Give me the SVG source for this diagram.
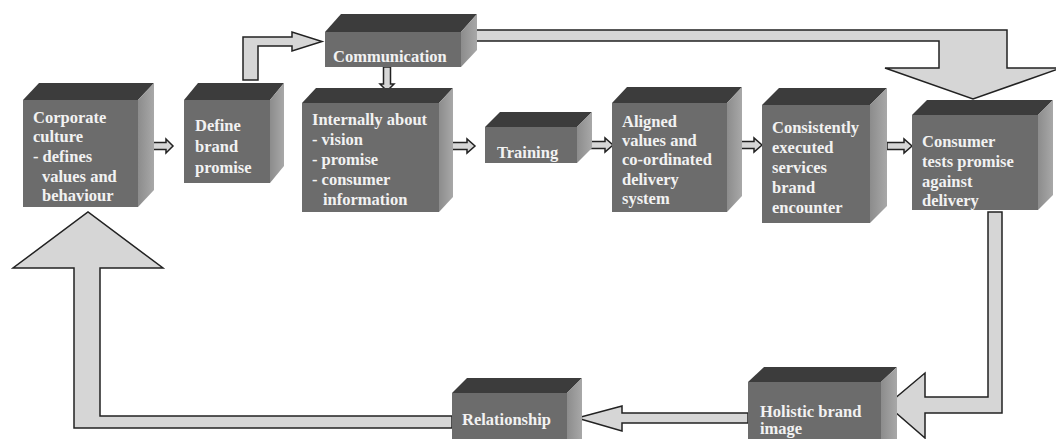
<svg xmlns="http://www.w3.org/2000/svg" width="1056" height="439" viewBox="0 0 1056 439">
  <defs>
    <linearGradient id="sideGrad" x1="0" y1="0" x2="1" y2="0">
      <stop offset="0" stop-color="#8c8c8c"/>
      <stop offset="1" stop-color="#a8a8a8"/>
    </linearGradient>
    <style>
      .front { fill: #6c6c6c; }
      .top { fill: #3c3c3c; }
      .side { fill: url(#sideGrad); }
      .lbl { font-family: "Liberation Serif", "Times New Roman", serif; font-weight: bold; font-size: 16.5px; fill: #f2f2f2; }
      .arrow { fill: #d6d6d6; stroke: #222222; stroke-width: 1.5; stroke-linejoin: miter; }
    </style>
  </defs>
  <rect width="1056" height="439" fill="#ffffff"/>

  <!-- connectors -->
  <g id="connectors">
    <!-- Define brand promise -> Communication (L-shaped) -->
    <path class="arrow" d="M243,80 L243,37 L292,37 L292,32 L322,41.5 L292,51 L292,46 L258,46 L258,80 Z"/>
    <!-- Communication -> Consumer tests (long top arrow) -->
    <path class="arrow" d="M472,30 L1007,30 L1007,68 L1061,68 L973,99 L885,68 L939,68 L939,41 L472,41 Z"/>
    <!-- Consumer tests -> Holistic brand image -->
    <path class="arrow" d="M988,212 L1002,212 L1002,413 L925,413 L925,438 L887,405 L925,373 L925,397 L988,397 Z"/>
    <!-- Holistic brand image -> Relationship -->
    <path class="arrow" d="M748,413 L748,423 L622,423 L622,431 L577,418 L622,406 L622,413 Z"/>
    <!-- Relationship -> Corporate culture (feedback loop) -->
    <path class="arrow" d="M452,416 L452,428 L74,428 L74,268 L13,268 L88,212 L163,268 L100,268 L100,416 Z"/>
    <!-- small arrows between steps -->
    <path class="arrow" d="M153,142.5 L166,142.5 L166,139 L173,146 L166,153 L166,149.5 L153,149.5 Z"/>
    <path class="arrow" d="M383.5,67 L383.5,84 L380,84 L387,91 L394,84 L390.5,84 L390.5,67 Z"/>
    <path class="arrow" d="M450,142.5 L467,142.5 L467,139 L475,146 L467,153 L467,149.5 L450,149.5 Z"/>
    <path class="arrow" d="M588,141.5 L605,141.5 L605,138 L613,145 L605,152 L605,148.5 L588,148.5 Z"/>
    <path class="arrow" d="M737,141.5 L754,141.5 L754,138 L762,145 L754,152 L754,148.5 L737,148.5 Z"/>
    <path class="arrow" d="M887,142.5 L904,142.5 L904,139 L912,146 L904,153 L904,149.5 L887,149.5 Z"/>
  </g>

  <!-- Corporate culture -->
  <g id="corporate-culture">
    <polygon class="top" points="23,100 39,83 154,83 138,100"/>
    <polygon class="side" points="138,100 154,83 154,190 138,207"/>
    <rect class="front" x="23" y="100" width="115" height="107"/>
    <text class="lbl" x="33" y="123">Corporate</text>
    <text class="lbl" x="33" y="142">culture</text>
    <text class="lbl" x="33" y="162">- defines</text>
    <text class="lbl" x="42" y="182">values and</text>
    <text class="lbl" x="42" y="201">behaviour</text>
  </g>

  <!-- Define brand promise -->
  <g id="define-brand-promise">
    <polygon class="top" points="184,100 198,83 284,83 270,100"/>
    <polygon class="side" points="270,100 284,83 284,166 270,183"/>
    <rect class="front" x="184" y="100" width="86" height="83"/>
    <text class="lbl" x="195" y="131">Define</text>
    <text class="lbl" x="195" y="152">brand</text>
    <text class="lbl" x="195" y="173">promise</text>
  </g>

  <!-- Communication -->
  <g id="communication">
    <polygon class="top" points="325,32 341,14 477,14 461,32"/>
    <polygon class="side" points="461,32 477,14 477,50 461,67"/>
    <rect class="front" x="325" y="32" width="136" height="35"/>
    <text class="lbl" x="333" y="62">Communication</text>
  </g>

  <!-- Internally about -->
  <g id="internally-about">
    <polygon class="top" points="302,103 316,88 453,88 439,103"/>
    <polygon class="side" points="439,103 453,88 453,197 439,212"/>
    <rect class="front" x="302" y="103" width="137" height="109"/>
    <text class="lbl" x="312" y="125">Internally about</text>
    <text class="lbl" x="312" y="145">- vision</text>
    <text class="lbl" x="312" y="165">- promise</text>
    <text class="lbl" x="312" y="185">- consumer</text>
    <text class="lbl" x="323" y="205">information</text>
  </g>

  <!-- Training -->
  <g id="training">
    <polygon class="top" points="485,127 500,112 592,112 577,127"/>
    <polygon class="side" points="577,127 592,112 592,148 577,163"/>
    <rect class="front" x="485" y="127" width="92" height="36"/>
    <text class="lbl" x="497" y="158">Training</text>
  </g>

  <!-- Aligned values -->
  <g id="aligned-values">
    <polygon class="top" points="612,103 627,87 742,87 727,103"/>
    <polygon class="side" points="727,103 742,87 742,196 727,212"/>
    <rect class="front" x="612" y="103" width="115" height="109"/>
    <text class="lbl" x="622" y="127">Aligned</text>
    <text class="lbl" x="622" y="146">values and</text>
    <text class="lbl" x="622" y="165">co-ordinated</text>
    <text class="lbl" x="622" y="185">delivery</text>
    <text class="lbl" x="622" y="204">system</text>
  </g>

  <!-- Consistently executed services -->
  <g id="consistently-executed">
    <polygon class="top" points="762,105 779,88 887,88 870,105"/>
    <polygon class="side" points="870,105 887,88 887,206 870,223"/>
    <rect class="front" x="762" y="105" width="108" height="118"/>
    <text class="lbl" x="772" y="133">Consistently</text>
    <text class="lbl" x="772" y="153">executed</text>
    <text class="lbl" x="772" y="173">services</text>
    <text class="lbl" x="772" y="193">brand</text>
    <text class="lbl" x="772" y="213">encounter</text>
  </g>

  <!-- Consumer tests promise -->
  <g id="consumer-tests">
    <polygon class="top" points="912,115 927,100 1053,100 1038,115"/>
    <polygon class="side" points="1038,115 1053,100 1053,195 1038,210"/>
    <rect class="front" x="912" y="115" width="126" height="95"/>
    <text class="lbl" x="922" y="147">Consumer</text>
    <text class="lbl" x="922" y="167">tests promise</text>
    <text class="lbl" x="922" y="187">against</text>
    <text class="lbl" x="922" y="206">delivery</text>
  </g>

  <!-- Holistic brand image -->
  <g id="holistic-brand-image">
    <polygon class="top" points="748,382 764,367 897,367 881,382"/>
    <polygon class="side" points="881,382 897,367 897,439 881,439"/>
    <rect class="front" x="748" y="382" width="133" height="57"/>
    <text class="lbl" x="760" y="417">Holistic brand</text>
    <text class="lbl" x="760" y="434">image</text>
  </g>

  <!-- Relationship -->
  <g id="relationship">
    <polygon class="top" points="452,393 467,378 582,378 567,393"/>
    <polygon class="side" points="567,393 582,378 582,439 567,439"/>
    <rect class="front" x="452" y="393" width="115" height="46"/>
    <text class="lbl" x="462" y="425">Relationship</text>
  </g>
</svg>
